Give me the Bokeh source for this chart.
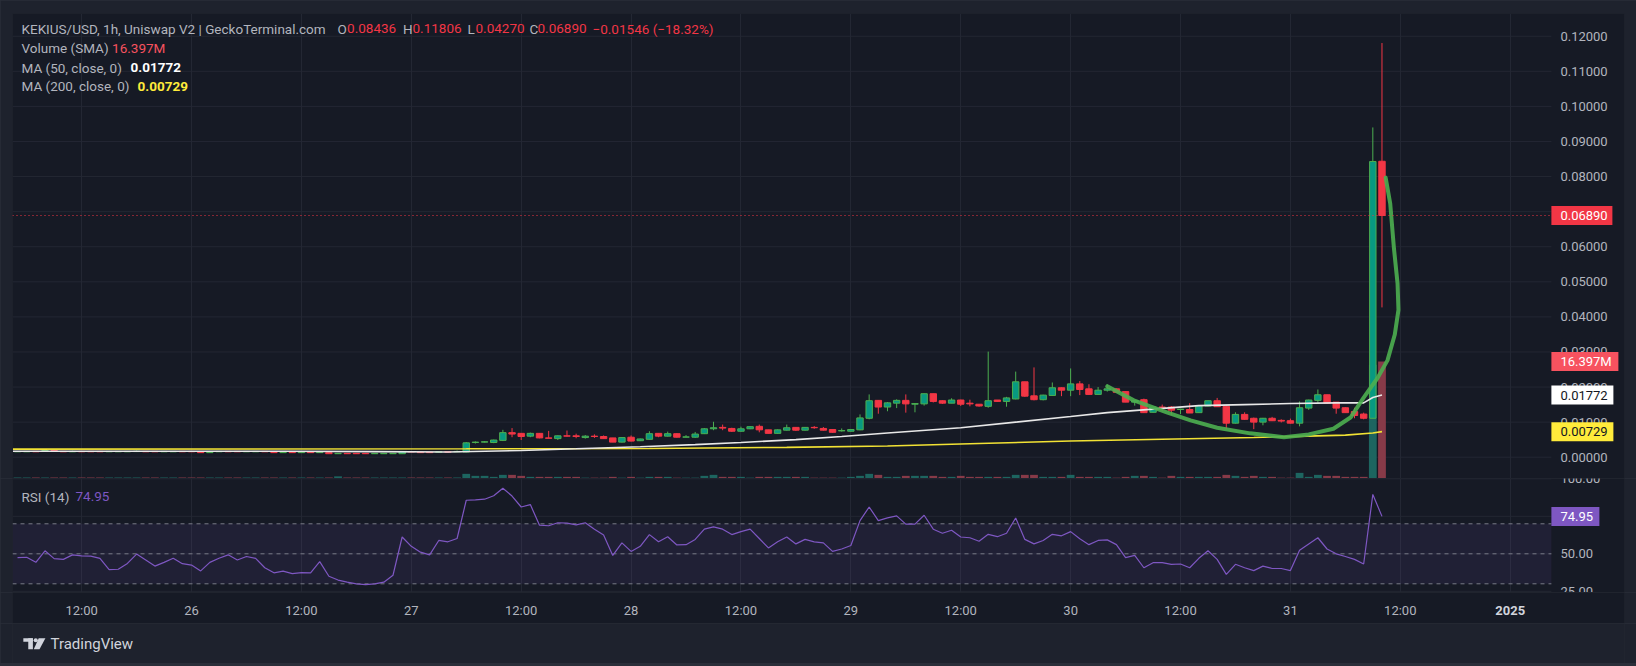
import numpy as np
import pandas as pd
from bokeh.plotting import figure
from bokeh.layouts import column
from bokeh.models import (ColumnDataSource, Range1d, FixedTicker, Grid, Label,
                          BoxAnnotation)
from bokeh.core.properties import value
from bokeh.embed import file_html
from bokeh.resources import INLINE

# ---------------------------------------------------------------- data
first_bar = "2024-12-25 05:00"          # hourly bars, 2024-12-25 05:00 .. 2024-12-31 10:00
day_origin = "2024-12-26 00:00"         # origin for the hour offsets below

opens = [
    .00155, .00155, .00165, .00180, .00190, .00165, .00155, .00165, .00165, .00165,
    .00155, .00155, .00155, .00160, .00165, .00165, .00155, .00155, .00165, .00165,
    .00140, .00130, .00155, .00165, .00165, .00155, .00155, .00165, .00140, .00130,
    .00140, .00130, .00140, .00130, .00130, .00100, .00110, .00110, .00110, .00100,
    .00100, .00100, .00100, .00160, .00140, .00140, .00145, .00155, .00155, .0015,
    .0042, .0043, .0042, .0048, .0070, .0068, .0060, .0068, .0055, .0053,
    .0061, .0061, .0056, .0060, .0059, .0055, .0043, .0057, .0047, .0051,
    .0068, .0060, .0067, .0057, .0057, .0067, .0081, .0085, .0082, .0074,
    .0081, .0088, .0078, .0068, .0077, .0085, .0077, .0085, .0082, .0079,
    .0075, .0074, .0078, .0111, .0162, .0143, .0154, .0162, .0151, .0152,
    .0181, .0161, .0154, .0163, .0154, .0151, .0145, .0163, .0159, .0166,
    .0215, .0175, .0164, .0176, .0198, .0191, .0209, .0195, .0179, .0191,
    .0195, .0187, .0157, .0164, .0128, .0143, .0143, .0136, .0136, .0127,
    .0146, .0161, .0145, .0097, .0122, .0111, .0100, .0111, .0105, .0104,
    .0097, .0140, .0162, .0178, .0157, .0141, .0130, .0123, .0111, .08436,
]
highs = [
    .00168, .00168, .00168, .00195, .00193, .00168, .00185, .00168, .00168, .00168,
    .00168, .00168, .00168, .00190, .00168, .00168, .00168, .00168, .00168, .00168,
    .00143, .00143, .00168, .00168, .00168, .00168, .00168, .00168, .00143, .00143,
    .00143, .00143, .00143, .00143, .00133, .00113, .00113, .00113, .00113, .00113,
    .00113, .00113, .00165, .00163, .00143, .00143, .00158, .00158, .00190, .0043,
    .0045, .0046, .0050, .0078, .0083, .0069, .0070, .0069, .0075, .0062,
    .0076, .0067, .0063, .0065, .0062, .0055, .0057, .0062, .0053, .0074,
    .0068, .0073, .0068, .0063, .0072, .0083, .0101, .0093, .0084, .0087,
    .0088, .0093, .0078, .0079, .0093, .0086, .0086, .0089, .0086, .0079,
    .0082, .0080, .0122, .0179, .0162, .0157, .0165, .0179, .0153, .0181,
    .0181, .0162, .0168, .0164, .0164, .0151, .0301, .0163, .0172, .0244,
    .0215, .0256, .0178, .0213, .0199, .0253, .0217, .0208, .0200, .0208,
    .0196, .0187, .0162, .0167, .0143, .0150, .0146, .0138, .0154, .0147,
    .0161, .0169, .0147, .0128, .0128, .0113, .0112, .0115, .0108, .0110,
    .0159, .0164, .0193, .0178, .0157, .0142, .0141, .0127, .0940, .11806,
]
lows = [
    .00150, .00152, .00152, .00178, .00178, .00152, .00152, .00152, .00152, .00152,
    .00152, .00152, .00152, .00157, .00152, .00152, .00152, .00152, .00152, .00152,
    .00127, .00127, .00152, .00152, .00152, .00152, .00152, .00152, .00127, .00127,
    .00127, .00127, .00127, .00127, .00095, .00097, .00097, .00097, .00097, .00097,
    .00097, .00097, .00097, .00147, .00127, .00127, .00142, .00142, .00152, .0014,
    .0039, .0042, .0040, .0046, .0057, .0049, .0057, .0054, .0054, .0049,
    .0059, .0054, .0053, .0055, .0053, .0043, .0042, .0045, .0046, .0050,
    .0057, .0059, .0056, .0057, .0055, .0066, .0077, .0077, .0072, .0073,
    .0080, .0071, .0068, .0067, .0076, .0075, .0076, .0081, .0076, .0070,
    .0073, .0073, .0077, .0108, .0124, .0131, .0140, .0127, .0128, .0147,
    .0156, .0152, .0154, .0146, .0145, .0144, .0141, .0158, .0144, .0165,
    .0172, .0162, .0162, .0176, .0174, .0174, .0177, .0178, .0178, .0187,
    .0184, .0157, .0147, .0126, .0127, .0131, .0120, .0123, .0126, .0126,
    .0145, .0144, .0081, .0096, .0107, .0080, .0091, .0103, .0099, .0096,
    .0088, .0135, .0152, .0152, .0124, .0127, .0111, .0108, .0111, .04270,
]
closes = [
    .00165, .00165, .00155, .00190, .00180, .00155, .00165, .00155, .00155, .00155,
    .00165, .00165, .00165, .00170, .00155, .00155, .00165, .00165, .00155, .00155,
    .00130, .00140, .00165, .00155, .00155, .00165, .00165, .00155, .00130, .00140,
    .00130, .00140, .00130, .00140, .00100, .00110, .00100, .00100, .00100, .00110,
    .00110, .00110, .00160, .00150, .00130, .00130, .00155, .00145, .00165, .0041,
    .0043, .0044, .0049, .0070, .0066, .0059, .0068, .0055, .0054, .0061,
    .0060, .0059, .0060, .0059, .0053, .0043, .0056, .0046, .0052, .0067,
    .0060, .0067, .0057, .0058, .0066, .0081, .0084, .0083, .0074, .0081,
    .0087, .0078, .0068, .0078, .0084, .0077, .0085, .0084, .0077, .0071,
    .0076, .0079, .0112, .0161, .0143, .0155, .0162, .0152, .0153, .0181,
    .0159, .0154, .0163, .0151, .0152, .0146, .0161, .0159, .0169, .0215,
    .0174, .0164, .0177, .0198, .0191, .0209, .0193, .0179, .0191, .0195,
    .0185, .0157, .0161, .0127, .0143, .0141, .0134, .0137, .0126, .0147,
    .0161, .0144, .0097, .0122, .0108, .0100, .0111, .0104, .0103, .0097,
    .0141, .0163, .0178, .0154, .0140, .0127, .0119, .0111, .0843, .06890,
]
volumes_m = [
    0.14, 0.14, 0.14, 0.14, 0.14, 0.14, 0.14, 0.14, 0.14, 0.14,
    0.14, 0.14, 0.14, 0.14, 0.14, 0.14, 0.14, 0.14, 0.14, 0.14,
    0.14, 0.14, 0.14, 0.14, 0.14, 0.14, 0.14, 0.14, 0.14, 0.14,
    0.14, 0.14, 0.14, 0.14, 0.14, 0.30, 0.14, 0.14, 0.14, 0.14,
    0.14, 0.14, 0.14, 0.14, 0.14, 0.14, 0.14, 0.14, 0.14, 0.65,
    0.37, 0.37, 0.23, 0.51, 0.51, 0.37, 0.23, 0.23, 0.23, 0.23,
    0.23, 0.23, 0.12, 0.12, 0.12, 0.23, 0.12, 0.23, 0.12, 0.23,
    0.23, 0.23, 0.12, 0.12, 0.12, 0.37, 0.51, 0.23, 0.23, 0.23,
    0.12, 0.23, 0.23, 0.23, 0.23, 0.23, 0.23, 0.12, 0.12, 0.12,
    0.12, 0.23, 0.37, 0.65, 0.51, 0.23, 0.23, 0.37, 0.37, 0.37,
    0.37, 0.23, 0.23, 0.37, 0.23, 0.23, 0.23, 0.23, 0.23, 0.51,
    0.51, 0.51, 0.23, 0.23, 0.23, 0.51, 0.23, 0.23, 0.23, 0.23,
    0.12, 0.23, 0.37, 0.37, 0.23, 0.12, 0.37, 0.23, 0.23, 0.23,
    0.23, 0.23, 0.51, 0.37, 0.23, 0.37, 0.23, 0.23, 0.12, 0.12,
    0.79, 0.23, 0.51, 0.37, 0.37, 0.23, 0.23, 0.23, 15.93, 16.397,
]
rsi_values = [
    47.5, 47.7, 44.3, 52.0, 46.8, 46.3, 49.3, 48.6, 48.4, 47.0,
    39.5, 39.7, 43.6, 49.8, 45.9, 41.8, 44.3, 47.0, 43.4, 42.5,
    38.6, 44.3, 47.0, 49.3, 45.9, 48.2, 47.0, 40.7, 37.3, 38.4,
    36.8, 37.5, 37.3, 44.8, 35.0, 32.5, 31.1, 30.0, 29.5, 30.0,
    31.1, 35.7, 61.2, 55.0, 51.1, 49.3, 58.9, 58.0, 60.2, 85.7,
    85.9, 86.4, 88.7, 93.7, 88.5, 81.2, 82.8, 69.1, 68.7, 70.7,
    70.5, 69.3, 70.7, 66.4, 62.5, 48.9, 57.3, 51.6, 55.0, 62.8,
    58.0, 61.4, 55.9, 56.1, 59.6, 66.4, 68.0, 66.4, 62.8, 64.8,
    66.4, 60.2, 53.9, 58.0, 61.2, 56.6, 59.6, 58.0, 57.3, 51.6,
    53.2, 55.5, 72.1, 81.2, 72.1, 73.9, 75.3, 69.8, 69.8, 75.7,
    66.4, 63.7, 65.7, 61.2, 60.7, 58.4, 63.0, 61.4, 63.7, 73.9,
    59.6, 56.6, 58.9, 63.0, 62.0, 64.8, 60.0, 56.1, 58.9, 59.3,
    56.1, 47.5, 48.9, 40.7, 44.1, 44.1, 43.0, 43.2, 40.7, 47.0,
    52.0, 46.3, 36.3, 43.0, 40.7, 38.8, 41.8, 40.2, 40.2, 38.8,
    52.3, 56.6, 60.7, 53.2, 50.0, 48.2, 46.3, 43.2, 89.6, 74.95,
]
ma50_hours = [-19.5, -5, 10, 20, 28, 36, 42, 49, 55, 60, 66, 71, 76, 84, 90, 96,
              100, 105, 110, 115, 120, 125, 128, 129, 130]
ma50_values = [.0017, .0017, .0017, .0016, .0015, .0019, .0024, .0030, .0036, .0042,
               .0050, .0059, .0069, .0084, .0100, .0116, .0127, .0137, .0147, .0150,
               .0153, .0155, .0155, .0170, .01772]
ma200_hours = [-19.5, 30, 50, 65, 76, 86, 96, 106, 116, 126, 129, 130]
ma200_values = [.0023, .0024, .0025, .0028, .0032, .0039, .0046, .0051, .0056, .0063,
                .0069, .00729]
curve_hours = [100.0, 102.9, 106.5, 109.1, 112.0, 115.6, 119.3, 122.0, 124.7, 126.6,
               128.0, 129.5, 130.6, 131.4, 131.8, 131.7, 131.3, 130.9, 130.4]
curve_prices = [.0202, .0162, .0128, .0105, .0084, .0068, .0057, .0065, .0081, .0114,
                .0170, .0225, .0276, .0350, .0420, .0495, .0597, .0723, .0797]
price_ticks = [0.0, 0.01, 0.02, 0.03, 0.04, 0.05, 0.06, 0.07, 0.08, 0.09, 0.10, 0.11, 0.12]
rsi_ticks = [25, 50, 75, 100]
rsi_levels = [70, 50, 30]
time_tick_start = "2024-12-25 12:00"
time_tick_labels = ["12:00", "26", "12:00", "27", "12:00", "28", "12:00", "29",
                    "12:00", "30", "12:00", "31", "12:00", "2025"]
last_close = 0.06890
last_volume_m = 16.397
last_ma50 = 0.01772
last_ma200 = 0.00729
last_rsi = 74.95

# ---------------------------------------------------------------- styling / layout
BG = "#161a25"
OUTER = "#1e222d"
SEP = "#2a2e39"
GRIDC = "#232733"
TXT = "#b2b5be"
UP_FILL = "#089981"
UP_LINE = "#4caf50"
DOWN = "#f23645"
FONT = "Roboto"
HOUR = 3600000
W = 1636
FRAME_W = 1612                 # 12 px outer strip on each side
view_start = pd.Timestamp("2024-12-25 04:27")
view_end = pd.Timestamp("2025-01-01 12:29")
plot_edge = pd.Timestamp("2025-01-01 04:30")   # where the price scale column begins

ms = lambda ts: ts.value // 10**6
ms_per_px = (ms(view_end) - ms(view_start)) / FRAME_W
edge_ms = ms(plot_edge)
scale_x = edge_ms + 9 * ms_per_px


def at_scale(px):
    return edge_ms + px * ms_per_px


t = pd.date_range(first_bar, periods=len(opens), freq="h")
origin = pd.Timestamp(day_origin)
o = np.array(opens)
c = np.array(closes)
up = c >= o
src = ColumnDataSource(dict(
    t=t, high=highs, low=lows,
    top=np.maximum(o, c), bottom=np.minimum(o, c),
    fill=[UP_FILL if u else DOWN for u in up],
    line=[UP_LINE if u else DOWN for u in up],
    vol=np.array(volumes_m) * 1e6,
    vcol=["#1d6560" if u else "#873a48" for u in up],
))

tick_times = pd.date_range(time_tick_start, periods=len(time_tick_labels), freq="12h")
tick_ms = [int(v // 10**6) for v in tick_times.asi8]
x_range = Range1d(view_start, view_end)


def fig(w, h, xr, yr, left, right, top, bottom, bg=BG):
    f = figure(width=w, height=h, x_range=xr, y_range=yr,
               x_axis_location=None, y_axis_location=None, toolbar_location=None,
               output_backend="svg", title=None,
               background_fill_color=bg, border_fill_color=OUTER, outline_line_color=None,
               min_border_left=left, min_border_right=right,
               min_border_top=top, min_border_bottom=bottom)
    f.center = []
    return f


def vgrid(f):
    f.add_layout(Grid(dimension=0, ticker=FixedTicker(ticks=tick_ms),
                      grid_line_color=GRIDC), "center")


def hlines(f, ys, color, dash="solid", level="underlay"):
    r = f.segment(x0=[ms(view_start)] * len(ys), x1=[edge_ms] * len(ys), y0=ys, y1=ys,
                  line_color=color, line_dash=dash, line_width=1)
    r.level = level
    return r


def text(f, x, y, s, color=TXT, bold=False, size="13.5px"):
    f.add_layout(Label(x=x, y=y, x_units="screen", y_units="screen", text=s,
                       text_color=color, text_font=FONT, text_font_size=size,
                       text_font_style="bold" if bold else "normal",
                       text_align="left", text_baseline="middle"))


def scale_labels(f, ticks, fmt):
    f.text(x=[scale_x] * len(ticks), y=ticks, text=[fmt % v for v in ticks],
           text_color=TXT, text_font=value(FONT), text_font_size="13px",
           text_align="left", text_baseline="middle")


def badges(f, ys, labels, widths, fills, colors, range_name="default"):
    f.rect(x=[at_scale(w / 2) for w in widths], y=ys, width=widths, height=19,
           width_units="screen", height_units="screen", fill_color=fills,
           line_color=None, y_range_name=range_name)
    f.text(x=[scale_x] * len(ys), y=ys, text=labels, text_color=colors,
           text_font=value(FONT), text_font_size="13px", text_align="left",
           text_baseline="middle", y_range_name=range_name)


# ---------------------------------------------------------------- price pane
price_y = Range1d(-0.00607, 0.12648)
p1 = fig(W, 478, x_range, price_y, 12, 12, 13, 0)
p1.extra_y_ranges = {"vol": Range1d(0, 65.17e6)}
vgrid(p1)
hlines(p1, price_ticks, GRIDC)

p1.vbar(x="t", width=0.85 * HOUR, top="vol", bottom=0, fill_color="vcol",
        line_color=None, source=src, y_range_name="vol")
p1.segment(x0="t", y0="low", x1="t", y1="high", line_color="line", line_width=1, source=src)
p1.vbar(x="t", width=0.7 * HOUR, top="top", bottom="bottom", fill_color="fill",
        line_color="line", line_width=1, source=src)
p1.line(origin + pd.to_timedelta(ma200_hours, unit="h"), ma200_values,
        line_color="#f2e234", line_width=1.6)
p1.line(origin + pd.to_timedelta(ma50_hours, unit="h"), ma50_values,
        line_color="#e8e8e8", line_width=1.6)
p1.line(origin + pd.to_timedelta(curve_hours, unit="h"), curve_prices,
        line_color="#4caf50", line_width=4, line_alpha=0.9,
        line_join="round", line_cap="round")
hlines(p1, [last_close], DOWN, dash="1 3", level="glyph")

scale_labels(p1, price_ticks, "%.5f")
badges(p1, [last_close, last_ma50, last_ma200],
       [f"{last_close:.5f}", f"{last_ma50:.5f}", f"{last_ma200:.5f}"],
       [61, 62, 62], [DOWN, "#ffffff", "#ffeb3b"], ["#ffffff", "#131722", "#131722"])
badges(p1, [last_volume_m * 1e6], [f"{last_volume_m:.3f}M"], [67], ["#f7525f"],
       ["#ffffff"], range_name="vol")

FH = 465
text(p1, 9, FH - 15, "KEKIUS/USD, 1h, Uniswap V2 | GeckoTerminal.com")
for lx, letter, vx, val in [(325, "O", 334.6, "0.08436"), (390.6, "H", 400, "0.11806"),
                            (455, "L", 463, "0.04270"), (517, "C", 525, "0.06890")]:
    text(p1, lx, FH - 15, letter)
    text(p1, vx, FH - 15, val, DOWN)
text(p1, 580, FH - 15, "\u22120.01546 (\u221218.32%)", DOWN)
text(p1, 9, FH - 34, "Volume (SMA)")
text(p1, 99.6, FH - 34, "16.397M", "#f7525f")
text(p1, 9, FH - 54, "MA (50, close, 0)")
text(p1, 118, FH - 54, "0.01772", "#ffffff", bold=True)
text(p1, 9, FH - 72.5, "MA (200, close, 0)")
text(p1, 125, FH - 72.5, "0.00729", "#ffeb3b", bold=True)

# ---------------------------------------------------------------- RSI pane
rsi_y = Range1d(24.2, 100.2)
p2 = fig(W, 114, x_range, rsi_y, 12, 12, 0, 0)
vgrid(p2)
hlines(p2, rsi_ticks, GRIDC)
p2.add_layout(BoxAnnotation(right=edge_ms, bottom=30, top=70, fill_color="#7e57c2",
                            fill_alpha=0.1, line_color=None, level="underlay"))
hlines(p2, rsi_levels, "#787b86", dash="4 4", level="glyph")
p2.line(t, rsi_values, line_color="#7e57c2", line_width=1.2)
scale_labels(p2, rsi_ticks, "%.2f")
badges(p2, [last_rsi], [f"{last_rsi:.2f}"], [48], ["#7e57c2"], ["#ffffff"])
text(p2, 9, 114 - 18, "RSI (14)")
text(p2, 63, 114 - 18, f"{last_rsi:.2f}", "#7e57c2")

# ---------------------------------------------------------------- time scale
band_y = Range1d(0, 31)
pt = fig(W, 31, x_range, band_y, 12, 12, 0, 0)
pt.text(x=tick_times[:-1], y=[13.3] * (len(tick_times) - 1), text=time_tick_labels[:-1],
        text_color=TXT, text_font=value(FONT), text_font_size="13px",
        text_align="center", text_baseline="middle")
pt.text(x=tick_times[-1:], y=[13.3], text=time_tick_labels[-1:],
        text_color="#d1d4dc", text_font=value(FONT), text_font_size="13px",
        text_font_style="bold", text_align="center", text_baseline="middle")

# ---------------------------------------------------------------- footer
p3 = fig(W, 40, Range1d(0, W), Range1d(0, 40), 0, 0, 0, 0, bg=OUTER)
LOGO = "#d1d4dc"
p3.quad(left=[11, 16], right=[20.7, 20.7], top=[25.3, 25.3], bottom=[21.7, 14.3],
        fill_color=LOGO, line_color=None)
p3.circle(x=[23.6], y=[23.2], radius=2.1, fill_color=LOGO, line_color=None)
p3.patch(x=[26.6, 33.4, 27.4, 21.6], y=[25.3, 25.3, 14.3, 14.3],
         fill_color=LOGO, line_color=None)
text(p3, 38, 19.3, "TradingView", LOGO, size="15px")

layout = column(p1, p2, pt, p3)

try:
    from bokeh.core.templates import get_env
    page_template = get_env().from_string(
        '{% extends "file.html" %}{% block postamble %}'
        '<style>html, body {background-color: #2a2e39;}</style>{% endblock %}')
    open("out.html", "w").write(file_html(layout, INLINE, template=page_template))
except Exception:
    open("out.html", "w").write(file_html(layout, INLINE))
